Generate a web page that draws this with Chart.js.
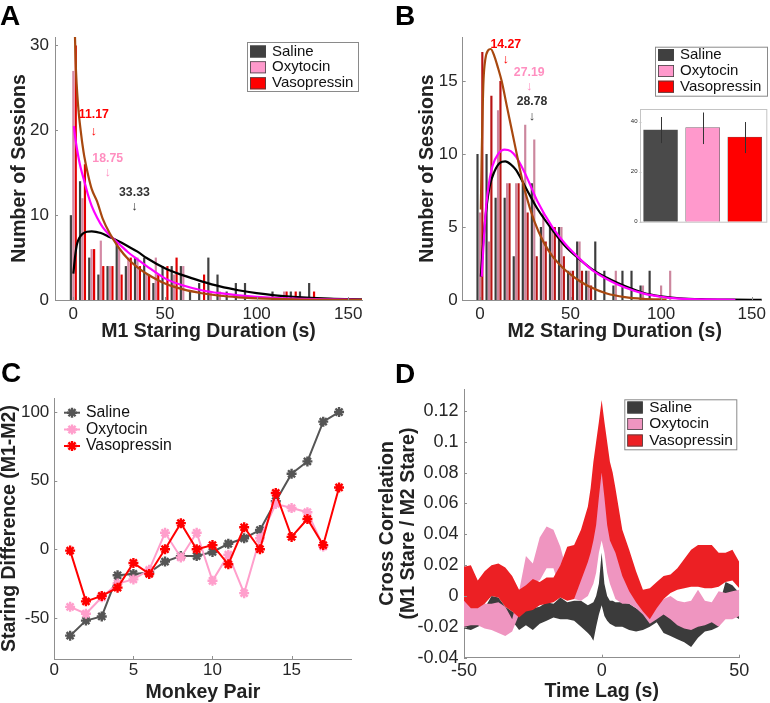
<!DOCTYPE html>
<html><head><meta charset="utf-8">
<script src="https://cdn.jsdelivr.net/npm/chart.js@4.4.1/dist/chart.umd.min.js"></script>
<style>
html,body{margin:0;padding:0;background:#fff;}
#wrap{position:relative;width:770px;height:703px;overflow:hidden;background:#fff}
canvas{position:absolute;left:0;top:0}
</style></head><body><div id="wrap">
<canvas id="cA" width="770" height="703"></canvas>
<canvas id="cB" width="770" height="703"></canvas>
<canvas id="cBi" width="770" height="703"></canvas>
<canvas id="cC" width="770" height="703"></canvas>
<canvas id="cD" width="770" height="703"></canvas>
</div>
<script>
const FONT = "'Liberation Sans', Arial, Helvetica, sans-serif";
const TXT = '#262626';
const AXIS = '#8f8f8f';
const W = 770, H = 703;
const seriesNames = ['Saline', 'Oxytocin', 'Vasopressin'];

// ---------- Panel A : M1 staring duration histogram ----------
const binsA = [0,5,10,15,20,25,30,35,40,45,50,55,60,65,70,75,80,85,90,95,100,105,110,115,120,125,130];
const salineA      = [10,14,5,3,4,7,4,5,5,2,4,4,4,1,2,5,3,1,2,2,0,0,1,0,1,1,2];
const oxytocinA    = [27,12,6,7,4,6,5,5,3,5,0,3,4,0,0,1,1,0,0,0,0,0,0,1,0,0,0];
const vasopressinA = [30,16,6,4,4,3,5,4,3,3,4,5,0,0,3,0,0,0,0,0,0,0,0,1,1,0,1];
const fitXA_sal = [0,1,2,3.5,5,7.5,10,15,20,25,30,35,40,50,60,70,80,90,100,110,120,140,158];
const fitYA_sal = [3.1,5.2,6.6,7.4,7.8,8.05,8.1,7.9,7.4,6.9,6.3,5.7,4.95,3.75,2.9,2.2,1.6,1.15,0.8,0.55,0.38,0.17,0.08];
const fitXA_oxy = [0.3,1,2,3,4,6,8,10,13,16,20,25,30,35,40,50,60,70,80,90,100,120,140,158];
const fitYA_oxy = [20.5,19.2,17.8,16.6,15.6,14.0,12.4,11.1,9.7,8.6,7.6,6.6,5.6,4.8,4.0,2.55,1.7,1.15,0.8,0.55,0.37,0.16,0.07,0.03];
const fitXA_vaso = [0.8,1.2,1.8,2.5,3.2,4,5,6,8,10,13,16,20,25,30,35,40,50,60,70,80,90,100,120,158];
const fitYA_vaso = [32,28.5,25.5,23.2,21.5,20.0,18.3,16.9,14.8,13.1,11.6,9.6,7.8,6.1,4.8,3.85,3.1,1.95,1.25,0.8,0.5,0.32,0.2,0.08,0.01];
const meansA = [11.17, 18.75, 33.33];
const xTicksA = [0,50,100,150], yTicksA = [0,10,20,30];

// ---------- Panel B : M2 staring duration histogram ----------
const binsB = [0,5,10,15,20,25,30,35,40,45,50,55,60,65,70,75,80,85,90,95,100,105];
const salineB      = [10,10,7,7,3,8,8,5,5,5,2,4,2,4,2,1,2,2,1,2,0,0];
const oxytocinB    = [6,4,13,8,8,12,11,6,5,5,2,4,2,0,0,2,0,0,1,0,1,2];
const vasopressinB = [17,14,15,8,8,6,3,4,5,3,2,2,1,0,0,0,0,0,0,0,0,0];
const fitXB_sal = [0.5,1.8,3.5,5.4,8,11,14,17,20,24,27,32,40,47,54,62,72,80,90,100,110,125,140,156];
const fitYB_sal = [1.6,3.9,6.2,7.8,8.8,9.4,9.5,9.3,8.9,8.0,7.3,6.2,4.8,3.7,2.9,2.1,1.4,0.95,0.5,0.25,0.12,0.05,0.02,0.01];
const fitXB_oxy = [1,2,3.5,5,7,10,13.6,17,20,24,27,32,40,47,54,62,72,80,90,100,110,125,141];
const fitYB_oxy = [1.6,3.8,6.5,8.0,9.2,10.0,10.3,10.2,9.8,8.9,8.1,6.7,5.0,3.85,2.95,2.05,1.3,0.85,0.45,0.22,0.1,0.04,0.01];
const fitXB_vaso = [0.5,1,1.5,2,3,4.5,6,8,10,12,15,17.5,20,22,25,30,35,40,45,50,55,60,70,80,90,103];
const fitYB_vaso = [6.2,10.0,13.0,15.1,16.5,17.1,17.2,16.7,15.9,15.0,13.2,11.7,10.2,9.0,7.4,5.4,4.0,3.0,2.3,1.75,1.3,0.95,0.45,0.2,0.08,0.02];
const meansB = [14.27, 27.19, 28.78];
const xTicksB = [0,50,100,150], yTicksB = [0,5,10,15];
// inset: mean staring duration per treatment
const insetMeans = [36.7, 37.6, 33.8];
const insetErrLo = [31.4, 31.0, 27.4];
const insetErrHi = [41.8, 43.6, 39.8];

// ---------- Panel C : staring difference per monkey pair ----------
const pairsC = [1,2,3,4,5,6,7,8,9,10,11,12,13,14,15,16,17,18];
const salineC      = [-63,-52,-49,-19,-18,-17,-9,-5,-5,-2,4,8,14,35,55,64,93,100];
const oxytocinC    = [-42,-47,-35,-25,-22,-15,12,-6,12,-23,-4,-32,8,33,30,27,2,null];
const vasopressinC = [-1,-38,-34,-28,-10,-18,0,19,0,3,-11,16,0,41,9,22,3,45];
const xTicksC = [0,5,10,15], yTicksC = [-50,0,50,100];

// ---------- Panel D : cross correlation bands ----------
const lagsD = [-50,-47.5,-45,-42.5,-40,-37.5,-35,-32.5,-30,-27.5,-25,-22.5,-20,-17.5,-15,-12.5,-10,-7.5,-5,-4,-3,-2,-1,0,1,2,3,4,5,7.5,10,12.5,15,17.5,20,22.5,25,27.5,30,32.5,35,37.5,40,42.5,45,47.5,50];
const vasoHiD = [.019,.020,.010,.016,.020,.021,.0185,.013,.004,.007,.011,.009,.012,.012,.020,.032,.033,.043,.058,.070,.087,.100,.113,.127,.113,.100,.087,.080,.070,.043,.030,.016,.004,.005,.009,.013,.014,.018,.024,.030,.033,.033,.033,.028,.028,.030,.022];
const vasoLoD = [-.003,-.008,-.008,-.005,.000,-.001,-.007,-.010,-.014,-.010,-.009,-.006,-.005,-.004,-.001,-.003,-.002,.010,.022,.028,.036,.046,.064,.080,.064,.046,.036,.032,.028,.013,.003,-.004,-.010,-.015,-.008,-.002,.002,.004,.005,.006,.006,.005,.005,.006,.009,.010,.005];
const oxyHiD = [-.002,-.006,-.007,-.005,-.005,-.004,-.007,-.015,.003,.026,.021,.038,.045,.043,.032,.015,.025,.035,.045,.050,.055,.062,.072,.082,.072,.062,.055,.050,.045,.030,.020,.010,.000,-.006,-.006,-.002,.000,-.003,-.004,-.003,.004,-.003,-.004,.003,.002,.003,.004];
const oxyLoD = [-.020,-.019,-.019,-.021,-.022,-.024,-.026,-.023,-.012,.005,.009,.010,.018,.018,.003,-.002,-.002,-.003,.000,.004,.008,.015,.028,.036,.028,.015,.008,.003,-.002,-.005,-.005,-.008,-.012,-.018,-.015,-.012,-.015,-.019,-.021,-.022,-.020,-.019,-.017,-.020,-.015,-.015,-.013];
const salHiD = [-.015,-.016,-.016,-.008,.000,-.001,-.007,-.010,-.013,-.009,-.008,-.007,-.004,-.005,-.001,-.004,-.003,-.003,-.006,-.005,-.004,.000,.008,.028,.008,.000,-.003,-.003,-.004,-.004,-.005,-.008,-.010,-.009,-.008,-.008,-.010,-.015,-.019,-.021,-.016,-.011,-.010,-.007,.009,.007,.002];
const salLoD = [-.021,-.022,-.020,-.018,-.010,-.012,-.014,-.016,-.022,-.019,-.022,-.018,-.016,-.014,-.015,-.015,-.016,-.020,-.024,-.026,-.029,-.020,-.012,-.006,-.013,-.016,-.018,-.019,-.020,-.020,-.022,-.023,-.022,-.020,-.017,-.024,-.026,-.028,-.030,-.033,-.027,-.023,-.022,-.020,-.010,-.012,-.015];
const xTicksD = [-50,0,50];
const yTicksD = [-0.04,-0.02,0,0.02,0.04,0.06,0.08,0.1,0.12];
const yLabelsD = ['-0.04','-0.02','0','0.02','0.04','0.06','0.08','0.1','0.12'];

// ---------- helpers ----------
const pts = (xs, ys) => xs.map((x, i) => ({ x: x, y: ys[i] }));
const lab = a => a.map(String);
const YW = 50, XH = 32; // reserved axis box sizes (label room)

function txt(ctx, s, x, y, o) {
  ctx.save();
  ctx.font = (o.weight || 'normal') + ' ' + o.size + 'px ' + FONT;
  ctx.fillStyle = o.color || TXT;
  ctx.textAlign = o.align || 'left';
  ctx.textBaseline = o.base || 'alphabetic';
  ctx.translate(x, y);
  if (o.rot) ctx.rotate(o.rot);
  ctx.fillText(s, 0, 0);
  ctx.restore();
}
function linScale(pos, min, max, ticks, labels, pad, size, box) {
  return {
    type: 'linear', position: pos, min: min, max: max, offset: false,
    grid: { display: false, drawTicks: false },
    border: { display: true, color: AXIS, width: 1 },
    afterBuildTicks: s => { s.ticks = ticks.map(v => ({ value: v })); },
    afterFit: s => { if (pos === 'left') s.width = box; else s.height = box; },
    ticks: { autoSkip: false, maxRotation: 0, minRotation: 0, padding: pad, color: TXT,
      font: { family: FONT, size: size }, callback: (v, i) => labels[i] }
  };
}
function baseOpts(area, xs, ys, yw, xh) {
  return {
    responsive: false, animation: false, devicePixelRatio: 1, events: [],
    layout: { padding: { left: area[0] - yw, top: area[1], right: W - area[2], bottom: H - area[3] - xh } },
    scales: { x: xs, y: ys },
    plugins: { legend: { display: false }, tooltip: { enabled: false } }
  };
}
function inTicks(chart, xt, yt, len) {
  const ctx = chart.ctx, a = chart.chartArea, x = chart.scales.x, y = chart.scales.y;
  ctx.save(); ctx.strokeStyle = AXIS; ctx.lineWidth = 1; ctx.beginPath();
  xt.forEach(v => { const p = Math.round(x.getPixelForValue(v)) + 0.5; ctx.moveTo(p, a.bottom); ctx.lineTo(p, a.bottom - len); });
  yt.forEach(v => { const p = Math.round(y.getPixelForValue(v)) + 0.5; ctx.moveTo(a.left, p); ctx.lineTo(a.left + len, p); });
  ctx.stroke(); ctx.restore();
}
function boxLegend(ctx, rect, colors, swX, swW, swH, txtX, rowY, fs) {
  ctx.save();
  ctx.fillStyle = '#fff'; ctx.fillRect(rect[0], rect[1], rect[2], rect[3]);
  ctx.strokeStyle = '#8a8a8a'; ctx.lineWidth = 1;
  ctx.strokeRect(rect[0] + 0.5, rect[1] + 0.5, rect[2], rect[3]);
  seriesNames.forEach((nm, i) => {
    ctx.fillStyle = colors[i];
    ctx.fillRect(swX, rowY[i] - swH / 2, swW, swH);
    ctx.strokeStyle = '#444'; ctx.lineWidth = 0.8;
    ctx.strokeRect(swX + 0.4, rowY[i] - swH / 2 + 0.4, swW - 0.8, swH - 0.8);
    txt(ctx, nm, txtX, rowY[i], { size: fs, base: 'middle', color: '#111' });
  });
  ctx.restore();
}
function yTitle(ctx, s, x, y) { txt(ctx, s, x, y, { size: 19.5, weight: 'bold', align: 'center', rot: -Math.PI / 2, color: '#222' }); }
function xTitle(ctx, s, x, y) { txt(ctx, s, x, y, { size: 19.5, weight: 'bold', align: 'center', color: '#222' }); }
function letter(ctx, s, x, y) { txt(ctx, s, x, y, { size: 28, weight: 'bold', color: '#000' }); }

const barCol = { sal: '#414141', oxy: '#d48aa5', vaso: '#e20000' };
const barColB = { sal: '#3c3c3c', oxy: '#cc879e', vaso: '#b81414' };
const fitCol = { sal: '#000000', oxy: '#ff00ff', vaso: '#a8480f' };
const legCols = ['#404040', '#ff99cc', '#ff0000'];

function histDatasets(bins, s, o, v, fits, bc) {
  const line = (xs, ys, c, ord) => ({ type: 'line', data: pts(xs, ys), borderColor: c, borderWidth: 2.2,
    pointRadius: 0, cubicInterpolationMode: 'monotone', order: ord });
  const bar = (ys, c) => ({ type: 'bar', data: pts(bins, ys), backgroundColor: c, borderWidth: 0,
    barPercentage: 0.9, categoryPercentage: 0.8, order: 5 });
  return [
    bar(s, bc.sal), bar(o, bc.oxy), bar(v, bc.vaso),
    line(fits[0], fits[1], fitCol.sal, 3),
    line(fits[2], fits[3], fitCol.oxy, 2),
    line(fits[4], fits[5], fitCol.vaso, 1)
  ];
}

// ---------- Chart A ----------
const annA = { textY: [21.8, 16.7, 12.7], arrowY: [19.9, 15.0, 11.0], col: ['#ff0000', '#ff8fc0', '#333333'] };
new Chart(document.getElementById('cA'), {
  type: 'bar',
  data: { datasets: histDatasets(binsA, salineA, oxytocinA, vasopressinA,
    [fitXA_sal, fitYA_sal, fitXA_oxy, fitYA_oxy, fitXA_vaso, fitYA_vaso], barCol) },
  options: baseOpts([55, 37, 362, 300],
    linScale('bottom', -10, 157.5, xTicksA, lab(xTicksA), 4, 17, XH),
    linScale('left', 0, 31, yTicksA, lab(yTicksA), 6, 17, YW), YW, XH),
  plugins: [{ id: 'exA', afterDraw(chart) {
    const ctx = chart.ctx, x = chart.scales.x, y = chart.scales.y;
    inTicks(chart, xTicksA, yTicksA, 3);
    meansA.forEach((m, i) => {
      const px = x.getPixelForValue(m);
      txt(ctx, m.toFixed(2), px, y.getPixelForValue(annA.textY[i]), { size: 12.3, weight: 'bold', align: 'center', base: 'middle', color: annA.col[i] });
      txt(ctx, '\u2193', px, y.getPixelForValue(annA.arrowY[i]), { size: 13, align: 'center', base: 'middle', color: annA.col[i] });
    });
    boxLegend(ctx, [247, 42, 111, 49], legCols, 250, 16, 12, 272, [51.5, 67.3, 83.3], 15);
    letter(ctx, 'A', 0, 25);
    yTitle(ctx, 'Number of Sessions', 25, 168.5);
    xTitle(ctx, 'M1 Staring Duration (s)', 208.5, 337);
  } }]
});

// ---------- Chart B ----------
const annB = { textY: [17.5, 15.6, 13.6], arrowY: [16.5, 14.6, 12.6], col: ['#ff0000', '#ff8fc0', '#333333'] };
new Chart(document.getElementById('cB'), {
  type: 'bar',
  data: { datasets: histDatasets(binsB, salineB, oxytocinB, vasopressinB,
    [fitXB_sal, fitYB_sal, fitXB_oxy, fitYB_oxy, fitXB_vaso, fitYB_vaso], barColB) },
  options: baseOpts([462.7, 37.3, 766.7, 300],
    linScale('bottom', -9.5, 155.5, xTicksB, lab(xTicksB), 4, 17, XH),
    linScale('left', 0, 18, yTicksB, lab(yTicksB), 5, 17, YW), YW, XH),
  plugins: [{ id: 'exB', afterDraw(chart) {
    const ctx = chart.ctx, x = chart.scales.x, y = chart.scales.y;
    inTicks(chart, xTicksB, yTicksB, 3);
    meansB.forEach((m, i) => {
      const px = x.getPixelForValue(m);
      txt(ctx, m.toFixed(2), px, y.getPixelForValue(annB.textY[i]), { size: 12.3, weight: 'bold', align: 'center', base: 'middle', color: annB.col[i] });
      txt(ctx, '\u2193', px, y.getPixelForValue(annB.arrowY[i]), { size: 13, align: 'center', base: 'middle', color: annB.col[i] });
    });
    boxLegend(ctx, [655, 46.7, 112, 49], legCols, 658, 16, 12, 680, [55, 71, 86.7], 15);
    letter(ctx, 'B', 395, 25);
    yTitle(ctx, 'Number of Sessions', 433, 168.6);
    xTitle(ctx, 'M2 Staring Duration (s)', 614.7, 337);
  } }]
});

// ---------- Inset (panel B) ----------
const insetX = [1, 2, 3];
new Chart(document.getElementById('cBi'), {
  type: 'bar',
  data: { datasets: [{ data: pts(insetX, insetMeans), backgroundColor: ['#4a4a4a', '#ff99cc', '#ff0000'],
    borderColor: '#666', borderWidth: 0.6, barThickness: 34 }] },
  options: (() => {
    const o = baseOpts([639.5, 109, 765.8, 221.7],
      linScale('bottom', 0.5, 3.5, [], [], 0, 6, 6),
      linScale('left', 0, 45, [0, 20, 40], ['0', '20', '40'], 2, 6, 12), 12, 6);
    o.scales.x.border.display = false; o.scales.y.border.display = false;
    return o;
  })(),
  plugins: [{ id: 'exBi', afterDraw(chart) {
    const ctx = chart.ctx, a = chart.chartArea, x = chart.scales.x, y = chart.scales.y;
    ctx.save();
    ctx.strokeStyle = '#c4c4c4'; ctx.lineWidth = 1;
    ctx.strokeRect(Math.round(a.left) + 0.5, Math.round(a.top) + 0.5, a.right - a.left, a.bottom - a.top);
    ctx.beginPath();
    [0, 20, 40].forEach(v => { const p = Math.round(y.getPixelForValue(v)) + 0.5; ctx.moveTo(a.left, p); ctx.lineTo(a.left + 2, p); });
    ctx.stroke();
    ctx.strokeStyle = '#333'; ctx.lineWidth = 1; ctx.beginPath();
    insetX.forEach((v, i) => {
      const px = Math.round(x.getPixelForValue(v)) + 0.5;
      ctx.moveTo(px, y.getPixelForValue(insetErrLo[i])); ctx.lineTo(px, y.getPixelForValue(insetErrHi[i]));
    });
    ctx.stroke(); ctx.restore();
  } }]
});

// ---------- Chart C ----------
const colC = ['#555555', '#ff9fcc', '#ff0000'];
const lineC = (ys, c, ord) => ({ data: pts(pairsC, ys), borderColor: c, backgroundColor: c, borderWidth: 2,
  pointStyle: 'star', pointRadius: 5, pointBorderWidth: 2.4, pointBorderColor: c, tension: 0, order: ord });
new Chart(document.getElementById('cC'), {
  type: 'line',
  data: { datasets: [lineC(salineC, colC[0], 3), lineC(oxytocinC, colC[1], 2), lineC(vasopressinC, colC[2], 1)] },
  options: baseOpts([54.3, 398.3, 351.7, 659],
    linScale('bottom', 0, 18.8, xTicksC, lab(xTicksC), 1, 17, XH),
    linScale('left', -80, 110, yTicksC, lab(yTicksC), 5, 17, YW), YW, XH),
  plugins: [{ id: 'exC', afterDraw(chart) {
    const ctx = chart.ctx;
    inTicks(chart, xTicksC, yTicksC, 3);
    const rows = [412.7, 429.5, 446];
    seriesNames.forEach((nm, i) => {
      ctx.save(); ctx.strokeStyle = colC[i]; ctx.lineWidth = 2;
      ctx.beginPath(); ctx.moveTo(64, rows[i]); ctx.lineTo(80, rows[i]); ctx.stroke();
      ctx.lineWidth = 2.4; ctx.beginPath();
      const r = 5, cx = 72, cy = rows[i], d = r * Math.SQRT1_2;
      ctx.moveTo(cx - r, cy); ctx.lineTo(cx + r, cy); ctx.moveTo(cx, cy - r); ctx.lineTo(cx, cy + r);
      ctx.moveTo(cx - d, cy - d); ctx.lineTo(cx + d, cy + d); ctx.moveTo(cx - d, cy + d); ctx.lineTo(cx + d, cy - d);
      ctx.stroke(); ctx.restore();
      txt(ctx, nm, 86, rows[i], { size: 15.8, base: 'middle', color: '#111' });
    });
    letter(ctx, 'C', 1, 382);
    yTitle(ctx, 'Staring Difference (M1-M2)', 15, 528.6);
    xTitle(ctx, 'Monkey Pair', 203, 697.5);
  } }]
});

// ---------- Chart D ----------
const colD = { sal: '#3b3b3b', oxy: '#ef95c0', vaso: '#ec2024' };
const band = (ys, c, fill, ord) => ({ data: pts(lagsD, ys), borderColor: 'rgba(0,0,0,0)', borderWidth: 0,
  backgroundColor: c, fill: fill, pointRadius: 0, tension: 0, order: ord });
new Chart(document.getElementById('cD'), {
  type: 'line',
  data: { datasets: [
    band(vasoHiD, colD.vaso, '+1', 1), band(vasoLoD, colD.vaso, false, 1),
    band(oxyHiD, colD.oxy, '+1', 2), band(oxyLoD, colD.oxy, false, 2),
    band(salHiD, colD.sal, '+1', 3), band(salLoD, colD.sal, false, 3)
  ] },
  options: baseOpts([464, 389.3, 739.3, 657.7],
    linScale('bottom', -50, 50, xTicksD, lab(xTicksD), 2.5, 18, XH),
    linScale('left', -0.04, 0.134, yTicksD, yLabelsD, 5.5, 18, YW), YW, XH),
  plugins: [{ id: 'exD', afterDraw(chart) {
    const ctx = chart.ctx;
    inTicks(chart, xTicksD, yTicksD, 3);
    boxLegend(ctx, [624.3, 399.3, 112, 50], [colD.sal, colD.oxy, colD.vaso], 627.3, 15.5, 12, 649.3, [407.5, 424, 440.5], 15.4);
    letter(ctx, 'D', 395, 383);
    yTitle(ctx, 'Cross Correlation', 393, 523.5);
    yTitle(ctx, '(M1 Stare / M2 Stare)', 414, 523.5);
    xTitle(ctx, 'Time Lag (s)', 601.7, 696.7);
  } }]
});
</script></body></html>
